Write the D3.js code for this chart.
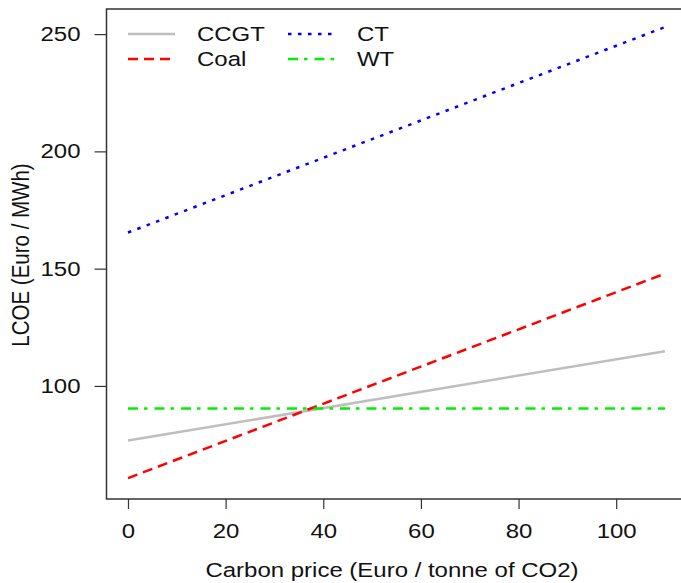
<!DOCTYPE html>
<html>
<head>
<meta charset="utf-8">
<script src="https://d3js.org/d3.v7.min.js"></script>
<style>
  body { margin: 0; background: #fff; overflow: hidden; }
  text { font-family: "Liberation Sans", Arial, Helvetica, sans-serif; fill: #111; }
</style>
</head>
<body>
<svg width="681" height="583"></svg>
<script>
// carbon price (Euro / tonne CO2) at the two ends of each line
var carbonPrice = [0, 110];
var ccgt = [76.7, 114.8];
var coal = [60.7, 147.9];
var ct   = [165.4, 253.0];
var wt   = [90.4, 90.4];

var xTicks = [0, 20, 40, 60, 80, 100];
var yTicks = [100, 150, 200, 250];

var seriesNames = ["CCGT", "Coal", "CT", "WT"];

var svg = d3.select("svg");
var fs = "20.5px", stretch = "scale(1.17,1)";   // the original png is a bit wider than tall

// R style: 4% padding on each side of the data range
var xScale = d3.scaleLinear().domain([-4.4, 114.4]).range([106.5, 686.5]);
var yScale = d3.scaleLinear().domain([51.8, 260.7]).range([499, 9]);

var series = [
  {name: seriesNames[0], values: ccgt, color: "#bebebe", dash: null},
  {name: seriesNames[1], values: coal, color: "#ff0000", dash: "10,6"},
  {name: seriesNames[2], values: ct,   color: "#0000ff", dash: "3.5,6.5"},
  {name: seriesNames[3], values: wt,   color: "#00f000", dash: "10,6,3.5,7"}
];

var line = d3.line()
  .x(function(d) { return xScale(d[0]); })
  .y(function(d) { return yScale(d[1]); });

series.forEach(function(s) {
  var pts = carbonPrice.map(function(c, i) { return [c, s.values[i]]; });
  svg.append("path")
    .datum(pts)
    .attr("d", line)
    .attr("fill", "none")
    .attr("stroke", s.color)
    .attr("stroke-width", 2.5)
    .attr("stroke-dasharray", s.dash);
});

// plot box
svg.append("rect")
  .attr("x", 106.5).attr("y", 9)
  .attr("width", 580).attr("height", 490)
  .attr("fill", "none")
  .attr("stroke", "#333")
  .attr("stroke-width", 1.5);

// x axis
var xAxis = svg.append("g")
  .attr("transform", "translate(0,499)")
  .call(d3.axisBottom(xScale).tickValues(xTicks).tickSize(10).tickPadding(14));
xAxis.select(".domain").remove();
xAxis.selectAll("line").attr("stroke", "#333").attr("stroke-width", 1.2);
xAxis.selectAll("text").style("font-size", fs).attr("fill", "#111")
  .attr("transform", stretch);

// y axis
var yAxis = svg.append("g")
  .attr("transform", "translate(106.5,0)")
  .call(d3.axisLeft(yScale).tickValues(yTicks).tickSize(12).tickPadding(14));
yAxis.select(".domain").remove();
yAxis.selectAll("line").attr("stroke", "#333").attr("stroke-width", 1.2);
yAxis.selectAll("text").style("font-size", fs).attr("fill", "#111")
  .attr("x", 0)
  .attr("transform", "translate(-26,0) " + stretch);

// axis titles
svg.append("text")
  .attr("transform", "translate(392,577) " + stretch)
  .attr("text-anchor", "middle")
  .style("font-size", fs)
  .text("Carbon price (Euro / tonne of CO2)");

svg.append("text")
  .attr("transform", "translate(29,255) " + stretch + " rotate(-90)")
  .attr("text-anchor", "middle")
  .style("font-size", fs)
  .text("LCOE (Euro / MWh)");

// legend, two columns
var legend = svg.selectAll(".legend").data(series)
  .enter().append("g")
  .attr("class", "legend")
  .attr("transform", function(d, i) {
    var col = i < 2 ? 0 : 1, row = i % 2;
    return "translate(" + (128 + col * 160) + "," + (34 + row * 25) + ")";
  });

legend.append("line")
  .attr("x1", 0).attr("x2", 47)
  .attr("stroke", function(d) { return d.color; })
  .attr("stroke-width", 2.5)
  .attr("stroke-dasharray", function(d) { return d.dash; });

legend.append("text")
  .attr("transform", "translate(69,7) " + stretch)
  .style("font-size", fs)
  .text(function(d) { return d.name; });
</script>
</body>
</html>
